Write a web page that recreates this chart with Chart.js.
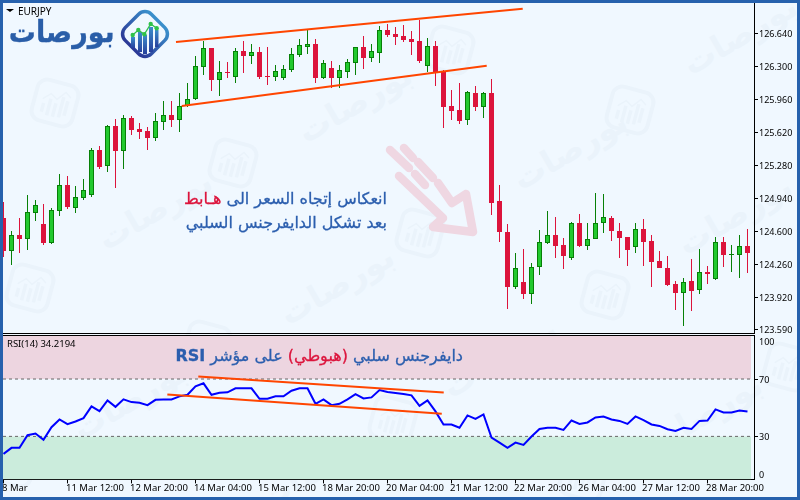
<!DOCTYPE html>
<html lang="ar">
<head>
<meta charset="utf-8">
<title>EURJPY RSI divergence</title>
<script src="https://cdn.jsdelivr.net/npm/chart.js@4/dist/chart.umd.js"></script>
<style>
  html, body { margin: 0; padding: 0; background: #F0F8FF; }
  #stage { position: relative; width: 800px; height: 500px; overflow: hidden; background: #F0F8FF; }
  #stage canvas { position: absolute; left: 0; }
  #backdrop { position: absolute; left: 0; top: 0; }
  #priceCanvas { top: 0; }
  #rsiCanvas { top: 335px; }
  .frame { position: absolute; inset: 0; border: 3px solid #2661AD; box-sizing: border-box; pointer-events: none; }
  .rule { position: absolute; left: 3px; width: 752px; height: 1px; background: #000; }
  .ar { position: absolute; font-family: "DejaVu Sans", sans-serif; direction: rtl; white-space: nowrap; color: #2B5EAE; -webkit-text-stroke: 0.3px currentColor; }
  .hot { color: #DC143C; }
  .mt { position: absolute; font-family: "Noto Sans", sans-serif; font-size: 9.5px; color: #000; white-space: nowrap; line-height: 12px; }
  .wm { position: absolute; font-family: "DejaVu Sans", sans-serif; font-weight: bold; font-size: 32px; color: #EAF3FB; direction: rtl; white-space: nowrap; transform: translate(-50%, -50%) rotate(-30deg); }
</style>
</head>
<body>
<div id="stage">
  <svg id="backdrop" width="800" height="500" viewBox="0 0 800 500">
    <defs>
      <g id="wmIcon" fill="none" stroke="#EAF3FB">
        <rect x="-21" y="-21" width="42" height="42" rx="10" stroke-width="4"/>
        <path d="M-11 12V3M-5 14V-3M1 14V0M7 13V-8M12 10V-5" stroke-width="3.5"/>
        <path d="M-13 -1L-6 -8L1 -4L8 -13L14 -9" stroke-width="1.5"/>
      </g>
    </defs>
    <use href="#wmIcon" transform="translate(55 103) rotate(15)"/>
    <use href="#wmIcon" transform="translate(30 288) rotate(15)"/>
    <use href="#wmIcon" transform="translate(233 163) rotate(15)"/>
    <use href="#wmIcon" transform="translate(450 50) rotate(15)"/>
    <use href="#wmIcon" transform="translate(420 233) rotate(15)"/>
    <use href="#wmIcon" transform="translate(630 110) rotate(15)"/>
    <use href="#wmIcon" transform="translate(605 295) rotate(15)"/>
    <use href="#wmIcon" transform="translate(583 477) rotate(15)"/>
    <use href="#wmIcon" transform="translate(13 463) rotate(15)"/>
    <use href="#wmIcon" transform="translate(393 420) rotate(15)"/>
    <use href="#wmIcon" transform="translate(787 367) rotate(15)"/>
    <use href="#wmIcon" transform="translate(207 345) rotate(15)"/>
    <!-- sell signal arrow -->
    <g fill="none" stroke="#EFD7E2" stroke-width="8.5" stroke-linecap="round" stroke-linejoin="round">
      <path d="M390 150L409 168"/>
      <path d="M404 148L413 158"/>
      <path d="M418 162L433 178"/>
      <path d="M415 174L425 185"/>
      <path d="M399 176L443 218L433 227L473 232L466 194L452 203L438 183"/>
    </g>
  </svg>
  <div class="wm" style="left:155px;top:210px">بورصات</div>
  <div class="wm" style="left:355px;top:103px">بورصات</div>
  <div class="wm" style="left:337px;top:285px">بورصات</div>
  <div class="wm" style="left:735px;top:215px">بورصات</div>
  <div class="wm" style="left:570px;top:150px">بورصات</div>
  <div class="wm" style="left:740px;top:35px">بورصات</div>
  <div class="wm" style="left:130px;top:400px">بورصات</div>
  <div class="wm" style="left:705px;top:413px">بورصات</div>
  <div class="wm" style="left:316px;top:470px">بورصات</div>
  <div class="wm" style="left:500px;top:358px">بورصات</div>

  <canvas id="priceCanvas" width="800" height="340"></canvas>
  <canvas id="rsiCanvas" width="800" height="165"></canvas>

  <div class="rule" style="top:333px"></div>
  <div class="rule" style="top:335px"></div>

  <svg style="position:absolute;left:0;top:0" width="180" height="64" viewBox="0 0 180 64">
    <defs>
      <linearGradient id="ring" x1="0" y1="0" x2="0" y2="1">
        <stop offset="0" stop-color="#3A8FCB"/><stop offset="1" stop-color="#2C3A97"/>
      </linearGradient>
      <linearGradient id="barFill" x1="0" y1="0" x2="0" y2="1">
        <stop offset="0" stop-color="#3C8CCB"/><stop offset="1" stop-color="#27409C"/>
      </linearGradient>
    </defs>
    <path d="M6 9h8l-4 3z" fill="#000"/>
    <rect x="126.5" y="15.5" width="37" height="37" rx="9" fill="#F0F8FF" stroke="url(#ring)" stroke-width="3.5" transform="rotate(45 145 34)"/>
    <g fill="url(#barFill)">
      <rect x="131" y="37" width="4" height="11"/>
      <rect x="138" y="32" width="4" height="20"/>
      <rect x="143" y="35" width="4" height="19"/>
      <rect x="149" y="27" width="4" height="25"/>
      <rect x="155" y="30" width="3.5" height="17"/>
    </g>
    <path d="M132.7 35L138.3 30L144.3 34.3L150.7 24L156.7 28.3" fill="none" stroke="#2FC24A" stroke-width="1.3"/>
    <g fill="#2FC24A">
      <circle cx="132.7" cy="35" r="2.2"/><circle cx="138.3" cy="30" r="2.2"/><circle cx="144.3" cy="34.3" r="2.2"/><circle cx="150.7" cy="24" r="2.2"/><circle cx="156.7" cy="28.3" r="2.2"/>
    </g>
  </svg>
  <div class="ar" style="right:685px;top:12px;font-size:30px;font-weight:bold;color:#2A5EA8;line-height:40px;transform:scaleX(0.9);transform-origin:right center">بورصات</div>
  <div class="mt" style="left:18px;top:5px;font-size:10px">EURJPY</div>
  <div class="mt" style="left:7px;top:338px">RSI(14) 34.2194</div>

  <div class="ar" style="right:413px;top:188px;font-size:16px;line-height:22px">انعكاس إتجاه السعر الى <span class="hot">هـابط</span></div>
  <div class="ar" style="right:413px;top:212px;font-size:16px;line-height:22px">بعد تشكل الدايفرجنس السلبي</div>
  <div class="ar" style="right:337px;top:345px;font-size:16px;line-height:22px">دايفرجنس سلبي <span class="hot">(هبوطي)</span> على مؤشر <b>RSI</b></div>

  <div class="frame"></div>
</div>
<script>
// Hourly-style EURJPY candles, one entry per bar.
const opens = [124.740,124.403,124.564,124.526,124.794,124.678,124.485,124.815,125.079,124.846,124.949,124.980,125.437,125.272,125.684,125.433,125.770,125.656,125.636,125.567,125.731,125.800,125.752,125.890,125.968,126.298,126.491,126.164,126.243,126.195,126.460,126.411,126.449,126.202,126.195,126.185,126.267,126.422,126.504,126.532,126.185,126.285,126.185,126.246,126.339,126.501,126.391,126.442,126.676,126.635,126.614,126.583,126.563,126.308,126.511,126.243,125.893,125.852,125.746,126.027,125.886,126.027,124.915,124.595,124.032,124.080,123.960,124.238,124.485,124.564,124.461,124.331,124.688,124.454,124.520,124.685,124.740,124.606,124.544,124.444,124.626,124.503,124.297,124.225,124.060,123.970,124.091,123.995,124.183,124.114,124.492,124.358,124.362,124.451];
const highs = [124.904,124.606,124.740,124.976,124.925,124.884,124.843,125.193,125.172,125.069,125.141,125.461,125.484,125.697,125.759,125.800,125.790,125.718,125.677,125.821,125.945,125.945,126.027,126.130,126.408,126.566,126.491,126.357,126.346,126.491,126.563,126.532,126.501,126.501,126.315,126.315,126.491,126.583,126.676,126.583,126.367,126.357,126.315,126.377,126.501,126.614,126.532,126.717,126.738,126.707,126.727,126.666,126.779,126.594,126.563,126.264,126.058,126.130,126.048,126.099,126.037,126.171,125.079,124.678,124.379,124.420,124.276,124.616,124.812,124.750,124.534,124.698,124.781,124.688,124.997,124.987,124.760,124.688,124.544,124.688,124.729,124.564,124.400,124.348,124.091,124.122,124.317,124.420,124.245,124.544,124.544,124.461,124.564,124.626];
const lows = [124.338,124.255,124.379,124.410,124.709,124.461,124.472,124.760,124.832,124.791,124.925,124.956,125.244,125.213,125.052,125.244,125.594,125.553,125.443,125.536,125.646,125.680,125.628,125.886,125.955,126.212,126.048,125.996,126.182,126.130,126.233,126.326,126.171,126.109,126.151,126.161,126.243,126.398,126.429,126.130,126.171,126.079,126.079,126.182,126.212,126.274,126.346,126.336,126.604,126.521,126.552,126.418,126.336,126.243,126.099,125.667,125.749,125.708,125.697,125.842,125.770,124.770,124.492,123.802,124.008,123.905,123.854,124.152,124.472,124.328,124.214,124.307,124.441,124.410,124.520,124.585,124.503,124.328,124.245,124.379,124.245,124.029,124.225,124.039,123.792,123.627,123.782,123.957,124.060,124.101,124.235,124.183,124.122,124.173];
const closes = [124.400,124.561,124.523,124.798,124.870,124.482,124.819,125.076,124.853,124.953,125.025,125.437,125.265,125.684,125.433,125.767,125.649,125.628,125.567,125.736,125.797,125.752,125.890,125.962,126.302,126.488,126.164,126.240,126.233,126.457,126.411,126.446,126.192,126.192,126.251,126.271,126.426,126.518,126.529,126.182,126.333,126.182,126.261,126.343,126.498,126.388,126.457,126.673,126.624,126.604,126.573,126.552,126.357,126.508,126.243,125.883,125.842,125.739,126.034,125.883,126.024,124.897,124.595,124.029,124.222,123.957,124.232,124.489,124.561,124.451,124.348,124.685,124.451,124.520,124.685,124.747,124.606,124.534,124.410,124.623,124.492,124.286,124.225,124.049,123.967,124.077,123.988,124.180,124.163,124.489,124.358,124.369,124.448,124.379];
const rsiValues = [17.8,22.0,22.0,30.8,32.0,27.6,36.4,41.8,38.5,40.4,42.7,50.9,47.6,55.1,50.6,55.8,53.9,53.4,51.8,55.5,55.8,55.8,57.9,59.0,64.9,67.0,59.0,60.4,60.7,63.5,63.5,63.5,56.2,56.2,57.9,57.9,61.8,63.5,63.5,52.7,55.8,51.8,52.7,55.8,59.5,56.5,57.2,62.3,60.9,60.2,59.5,58.6,51.3,55.1,47.4,38.3,38.3,36.0,44.6,42.2,45.3,29.2,25.7,22.0,25.7,24.1,29.9,35.2,36.0,36.0,34.5,41.1,38.7,39.7,43.2,43.9,41.8,40.8,38.7,43.9,41.3,38.3,37.3,35.0,33.8,36.0,35.2,40.8,41.1,48.8,46.7,46.7,48.1,47.4];

const priceTicks = [123.590,123.920,124.260,124.600,124.940,125.280,125.620,125.960,126.300,126.640];
const rsiTicks = [0,30,70,100];
const timeTickBars = [0,8,16,24,32,40,48,56,64,72,80,88];
const timeLabels = ['8 Mar','11 Mar 12:00','12 Mar 20:00','14 Mar 04:00','15 Mar 12:00','18 Mar 20:00','20 Mar 04:00','21 Mar 12:00','22 Mar 20:00','26 Mar 04:00','27 Mar 12:00','28 Mar 20:00'];

// Channel drawn over the candles: [bar, price] end points.
const channelUpper = [[21.56,126.552],[64.9,126.895]];
const channelLower = [[22.28,125.893],[60.4,126.308]];
// Falling RSI channel: [bar, rsi] end points.
const rsiUpper = [[24.35,71.8],[55.03,60.6]];
const rsiLower = [[20.48,59.2],[54.78,45.7]];

const rsiHigh = 70, rsiLow = 30;
const xMin = -0.0625, xMax = 93.8125, bandEnd = 93.44;

const UP_FILL = '#22C92E', UP_EDGE = '#078007', DOWN = '#DC143C';
const TREND = '#FF4500', RSI_LINE = '#0000FF';
const AXIS_FONT = { family: '"Noto Sans", sans-serif', size: 9, lineHeight: 1.2 };
const TIME_FONT = { family: '"Noto Sans", sans-serif', size: 9.5, lineHeight: 1.2 };

const toPoints = pairs => pairs.map(([x, y]) => ({ x, y }));
const isUp = i => closes[i] >= opens[i];

// Axis labels may overhang the panes; the plot area itself keeps its full extent.
const noOverhang = s => { s.paddingTop = s.paddingBottom = s.paddingLeft = s.paddingRight = 0; };

// Keeps candle tops and bottoms on whole pixels so the edges stay crisp.
const snapBars = {
  id: 'snapBars',
  afterDatasetsUpdate(chart) {
    chart.getSortedVisibleDatasetMetas().forEach(meta => {
      if (meta.type !== 'bar') return;
      meta.data.forEach(bar => {
        const top = Math.round(Math.min(bar.y, bar.base));
        const bottom = Math.round(Math.max(bar.y, bar.base));
        bar.y = top;
        bar.base = Math.max(bottom, top + 1);
      });
    });
  }
};

const trendDataset = pairs => ({
  type: 'line', data: toPoints(pairs), borderColor: TREND, borderWidth: 2,
  pointRadius: 0, fill: false, tension: 0
});

new Chart(document.getElementById('priceCanvas'), {
  type: 'bar',
  plugins: [snapBars],
  data: {
    datasets: [
      trendDataset(channelUpper),
      trendDataset(channelLower),
      {
        data: opens.map((o, i) => ({ x: i, y: [o, closes[i]] })),
        grouped: false, barThickness: 5, borderWidth: 1, borderSkipped: false, inflateAmount: 0,
        backgroundColor: ctx => isUp(ctx.dataIndex) ? UP_FILL : DOWN,
        borderColor: ctx => isUp(ctx.dataIndex) ? UP_EDGE : DOWN
      },
      {
        data: lows.map((l, i) => ({ x: i, y: [l, highs[i]] })),
        grouped: false, barThickness: 1, borderWidth: 0, borderSkipped: false, inflateAmount: 0,
        backgroundColor: ctx => isUp(ctx.dataIndex) ? UP_EDGE : DOWN
      }
    ]
  },
  options: {
    responsive: false, animation: false, devicePixelRatio: 1,
    layout: { padding: { left: 3, top: 3, right: 0, bottom: 7 } },
    plugins: { legend: { display: false }, tooltip: { enabled: false } },
    scales: {
      x: { type: 'linear', min: xMin, max: xMax, offset: false, display: false },
      y: {
        position: 'right', min: 123.5551, max: 126.9541,
        afterBuildTicks: s => { s.ticks = priceTicks.map(value => ({ value })); },
        afterFit: s => { s.width = 46; noOverhang(s); },
        border: { color: '#000', width: 1 },
        grid: { drawOnChartArea: false, tickLength: 4, tickColor: '#000' },
        ticks: { font: AXIS_FONT, color: '#000', padding: 1, labelOffset: 1, autoSkip: false, callback: v => v.toFixed(3) }
      }
    }
  }
});

const levelLine = value => ({
  type: 'line', data: [{ x: xMin, y: value }, { x: bandEnd, y: value }],
  borderColor: '#666', borderWidth: 1, borderDash: [3, 3], pointRadius: 0, fill: false
});
const band = (edge, limit, colour) => ({
  type: 'line', data: [{ x: xMin, y: edge }, { x: bandEnd, y: edge }],
  borderWidth: 0, pointRadius: 0, backgroundColor: colour, fill: { value: limit }
});

new Chart(document.getElementById('rsiCanvas'), {
  type: 'line',
  data: {
    datasets: [
      trendDataset(rsiUpper),
      trendDataset(rsiLower),
      {
        data: rsiValues.map((y, x) => ({ x, y })), borderColor: RSI_LINE, borderWidth: 2,
        pointRadius: 0, fill: false, tension: 0
      },
      levelLine(rsiHigh),
      levelLine(rsiLow),
      band(100, rsiHigh, '#EDD5E0'),
      band(0, rsiLow, '#CBECDC')
    ]
  },
  options: {
    responsive: false, animation: false, devicePixelRatio: 1,
    layout: { padding: { left: 3, top: 1, right: 0, bottom: 0 } },
    plugins: { legend: { display: false }, tooltip: { enabled: false } },
    scales: {
      x: {
        type: 'linear', min: xMin, max: xMax, offset: false,
        afterBuildTicks: s => { s.ticks = timeTickBars.map(value => ({ value })); },
        afterFit: s => { s.height = 20.6; noOverhang(s); },
        border: { color: '#000', width: 1 },
        grid: { drawOnChartArea: false, tickLength: 4, tickColor: '#000' },
        ticks: {
          font: TIME_FONT, color: '#000', padding: -1, autoSkip: false, maxRotation: 0, minRotation: 0,
          align: 'start', labelOffset: -1.5,
          callback: v => timeLabels[timeTickBars.indexOf(v)]
        }
      },
      y: {
        position: 'right', min: 0, max: 100,
        afterBuildTicks: s => { s.ticks = rsiTicks.map(value => ({ value })); },
        afterFit: s => { s.width = 46; noOverhang(s); },
        border: { color: '#000', width: 1 },
        grid: {
          drawOnChartArea: false, tickLength: 4,
          tickColor: ctx => (ctx.tick && (ctx.tick.value === rsiHigh || ctx.tick.value === rsiLow)) ? '#000' : 'rgba(0,0,0,0)'
        },
        ticks: {
          font: AXIS_FONT, color: '#000', padding: 1, labelOffset: 1, autoSkip: false,
          // The outer labels sit inside the pane, so they get a blank spacer line.
          callback: v => v === 100 ? ['', '100'] : v === 0 ? ['0', ''] : String(v)
        }
      }
    }
  }
});
</script>
</body>
</html>
